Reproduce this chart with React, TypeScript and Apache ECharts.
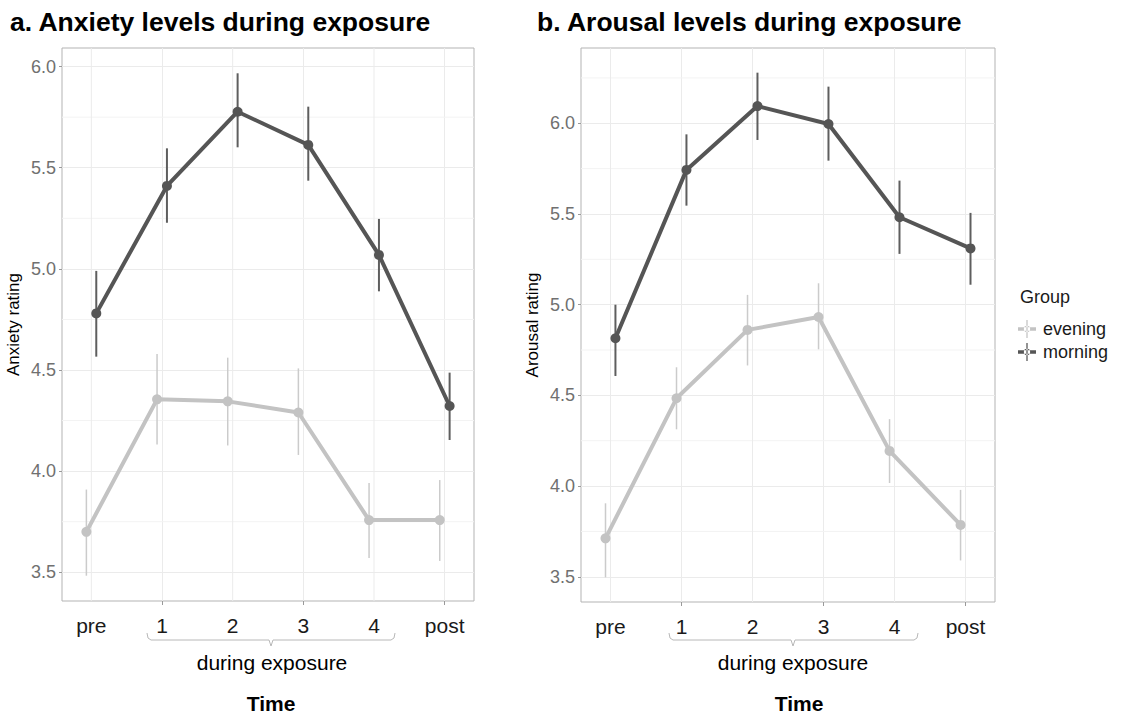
import React, { useEffect, useRef } from "react";
import * as echarts from "echarts";

// ---------- data ----------
const timeLabels = ["pre", "1", "2", "3", "4", "post"];
const timePos = [1, 2, 3, 4, 5, 6];
const xMajor = [2, 4, 6];
const xMinor = [1, 3, 5];
const yTicks = [3.5, 4.0, 4.5, 5.0, 5.5, 6.0];
const yMinorA = [3.75, 4.25, 4.75, 5.25, 5.75];
const yMinorB = [3.75, 4.25, 4.75, 5.25, 5.75, 6.25];
const groups = ["evening", "morning"];

// a. Anxiety
const anxEveningMean = [3.7, 4.355, 4.345, 4.29, 3.758, 3.758];
const anxEveningLo = [3.483, 4.132, 4.127, 4.08, 3.571, 3.556];
const anxEveningHi = [3.909, 4.579, 4.561, 4.508, 3.942, 3.956];
const anxMorningMean = [4.78, 5.41, 5.777, 5.613, 5.069, 4.322];
const anxMorningLo = [4.566, 5.228, 5.601, 5.436, 4.889, 4.154];
const anxMorningHi = [4.99, 5.596, 5.967, 5.802, 5.247, 4.487];

// b. Arousal
const arEveningMean = [3.712, 4.484, 4.861, 4.932, 4.194, 3.786];
const arEveningLo = [3.497, 4.313, 4.665, 4.754, 4.017, 3.59];
const arEveningHi = [3.905, 4.655, 5.054, 5.118, 4.369, 3.979];
const arMorningMean = [4.815, 5.743, 6.095, 5.996, 5.482, 5.31];
const arMorningLo = [4.607, 5.546, 5.908, 5.794, 5.28, 5.11];
const arMorningHi = [5.0, 5.939, 6.279, 6.202, 5.684, 5.506];

// ---------- styling ----------
const FONT = "Liberation Sans, Arial, Helvetica, sans-serif";
const EVE = "#c3c3c3";
const MORN = "#555555";
const EVE_BAR = "#cbcbcb";
const MORN_BAR = "#5e5e5e";
const GRID_MAJOR = "#ebebeb";
const GRID_MINOR = "#f3f3f3";
const BORDER = "#b3b3b3";
const DODGE = 0.07;

function errorBars(gi: number, name: string, lo: number[], hi: number[], off: number, color: string, w: number) {
  return {
    type: "custom",
    name,
    xAxisIndex: gi,
    yAxisIndex: gi,
    silent: true,
    z: 3,
    data: timePos.map((p, i) => [p + off, lo[i], hi[i]]),
    encode: { x: 0, y: [1, 2] },
    renderItem: (params: any, api: any) => {
      const a = api.coord([api.value(0), api.value(1)]);
      const b = api.coord([api.value(0), api.value(2)]);
      return {
        type: "line",
        shape: { x1: a[0], y1: a[1], x2: b[0], y2: b[1] },
        style: { stroke: color, lineWidth: w },
      };
    },
  };
}

function minorLines(gi: number, vals: number[], horizontal: boolean) {
  return {
    type: "custom",
    name: horizontal ? "yminor" : "xminor",
    xAxisIndex: gi,
    yAxisIndex: gi,
    silent: true,
    z: 1,
    data: vals.map((v) => (horizontal ? [3.5, v] : [v, 4.5])),
    encode: { x: 0, y: 1 },
    renderItem: (params: any, api: any) => {
      const cs = params.coordSys;
      const p = api.coord([api.value(0), api.value(1)]);
      const shape = horizontal
        ? { x1: cs.x, y1: p[1], x2: cs.x + cs.width, y2: p[1] }
        : { x1: p[0], y1: cs.y, x2: p[0], y2: cs.y + cs.height };
      return {
        type: "line",
        shape,
        style: { stroke: horizontal ? GRID_MINOR : GRID_MAJOR, lineWidth: 1 },
      };
    },
  };
}

function lineSeries(gi: number, name: string, mean: number[], off: number, color: string) {
  return {
    type: "line",
    name,
    xAxisIndex: gi,
    yAxisIndex: gi,
    z: 4,
    data: timePos.map((p, i) => [p + off, mean[i]]),
    symbol: "circle",
    symbolSize: 10,
    showSymbol: true,
    lineStyle: { color, width: 4 },
    itemStyle: { color },
    emphasis: { disabled: true },
  };
}

function xAxis(gi: number) {
  return {
    type: "value",
    gridIndex: gi,
    min: 0.585,
    max: 6.415,
    axisLine: { show: false },
    axisTick: { show: true, length: 4, customValues: xMajor, lineStyle: { color: "#999" } },
    splitLine: { show: true, lineStyle: { color: GRID_MAJOR, width: 1 } },
    axisLabel: {
      customValues: timePos,
      margin: 14,
      fontSize: 21,
      color: "#1a1a1a",
      fontFamily: FONT,
      formatter: (v: number) => {
        const i = timePos.indexOf(Math.round(v));
        return i >= 0 ? timeLabels[i] : "";
      },
    },
  };
}

function yAxis(gi: number, min: number, max: number, name: string) {
  return {
    type: "value",
    gridIndex: gi,
    min,
    max,
    name,
    nameLocation: "middle",
    nameGap: 40,
    nameRotate: 90,
    nameTextStyle: { fontSize: 17, color: "#000", fontFamily: FONT },
    axisLine: { show: false },
    axisTick: { show: true, length: 3, customValues: yTicks, lineStyle: { color: "#999" } },
    splitLine: { show: true, lineStyle: { color: GRID_MAJOR, width: 1 } },
    axisLabel: {
      customValues: yTicks,
      margin: 6,
      fontSize: 18,
      color: "#707070",
      fontFamily: FONT,
      formatter: (v: number) => v.toFixed(1),
    },
  };
}

function bracket(x0: number, x1: number, xc: number) {
  const y = 640;
  return {
    type: "polyline",
    silent: true,
    shape: {
      points: [
        [x0, 633],
        [x0 + 1, 638],
        [x0 + 4, y],
        [xc - 2, y],
        [xc, 646],
        [xc + 2, y],
        [x1 - 4, y],
        [x1 - 1, 638],
        [x1, 633],
      ],
    },
    style: { stroke: "#b8b8b8", lineWidth: 1, fill: null },
  };
}

function label(text: string, x: number, y: number, size: number, bold = false) {
  return {
    type: "text",
    silent: true,
    x,
    y,
    style: {
      text,
      fontSize: size,
      fontWeight: bold ? "bold" : "normal",
      fontFamily: FONT,
      fill: "#000",
      align: "center",
      verticalAlign: "middle",
    },
  };
}

export default function App() {
  const ref = useRef<HTMLDivElement>(null);

  useEffect(() => {
    if (!ref.current) return;
    const chart = echarts.init(ref.current, null, { renderer: "svg" });
    const option: any = {
      animation: false,
      backgroundColor: "#ffffff",
      textStyle: { fontFamily: FONT },
      title: [
        {
          text: "a. Anxiety levels during exposure",
          left: 10,
          top: 8,
          padding: 0,
          textStyle: { fontSize: 26.5, fontWeight: "bold", color: "#000", fontFamily: FONT },
        },
        {
          text: "b. Arousal levels during exposure",
          left: 537,
          top: 8,
          padding: 0,
          textStyle: { fontSize: 26.5, fontWeight: "bold", color: "#000", fontFamily: FONT },
        },
      ],
      legend: {
        data: groups,
        orient: "vertical",
        left: 1018,
        top: 320,
        padding: 0,
        itemWidth: 20,
        itemHeight: 18,
        itemGap: 5,
        icon: "path://M0,8h20v4H0z M9.3,0h1.4v20H9.3z M6.5,10a3.5,3.5 0 1,0 7,0a3.5,3.5 0 1,0 -7,0z",
        selectedMode: false,
        textStyle: { fontSize: 18, color: "#1a1a1a", fontFamily: FONT, padding: [0, 0, 0, 1] },
      },
      grid: [
        { left: 62, top: 48, width: 412, height: 553, show: true, borderColor: BORDER, borderWidth: 1, backgroundColor: "transparent" },
        { left: 581, top: 48, width: 414, height: 554, show: true, borderColor: BORDER, borderWidth: 1, backgroundColor: "transparent" },
      ],
      xAxis: [xAxis(0), xAxis(1)],
      yAxis: [yAxis(0, 3.358, 6.092, "Anxiety rating"), yAxis(1, 3.361, 6.415, "Arousal rating")],
      series: [
        minorLines(0, yMinorA, true),
        minorLines(0, xMinor, false),
        minorLines(1, yMinorB, true),
        minorLines(1, xMinor, false),
        errorBars(0, "evening-se", anxEveningLo, anxEveningHi, -DODGE, EVE_BAR, 1.5),
        lineSeries(0, "evening", anxEveningMean, -DODGE, EVE),
        errorBars(0, "morning-se", anxMorningLo, anxMorningHi, DODGE, MORN_BAR, 2),
        lineSeries(0, "morning", anxMorningMean, DODGE, MORN),
        errorBars(1, "evening-se", arEveningLo, arEveningHi, -DODGE, EVE_BAR, 1.5),
        lineSeries(1, "evening", arEveningMean, -DODGE, EVE),
        errorBars(1, "morning-se", arMorningLo, arMorningHi, DODGE, MORN_BAR, 2),
        lineSeries(1, "morning", arMorningMean, DODGE, MORN),
      ],
      graphic: [
        bracket(147, 395, 271),
        bracket(669, 918, 793),
        label("during exposure", 272, 662, 21),
        label("during exposure", 793, 662, 21),
        label("Time", 271, 703, 21, true),
        label("Time", 799, 703, 21, true),
        {
          type: "text",
          silent: true,
          x: 1020,
          y: 297,
          style: { text: "Group", fontSize: 18, fontFamily: FONT, fill: "#1a1a1a", align: "left", verticalAlign: "middle" },
        },
      ],
    };
    chart.setOption(option);
    return () => chart.dispose();
  }, []);

  return <div ref={ref} style={{ position: "absolute", left: 0, top: 0, width: 1126, height: 713 }} />;
}
